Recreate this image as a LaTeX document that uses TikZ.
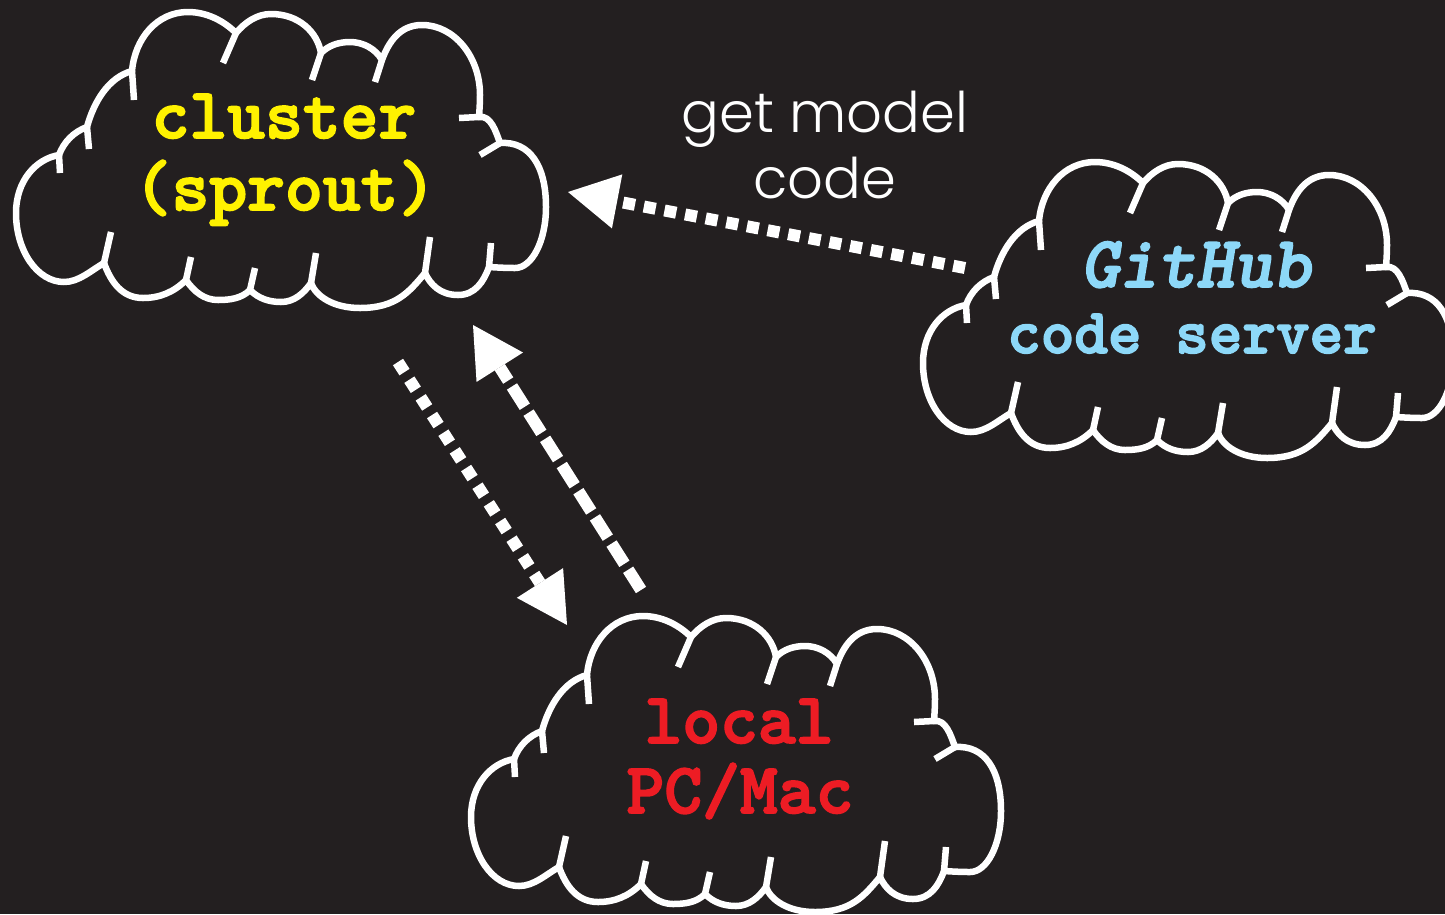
\documentclass[tikz,border=0pt]{standalone}
\usepackage{fontspec}
\newfontfamily\courb{lmmonolt10-bold.otf}[FakeBold=2.5]
\newfontfamily\courbi{lmmonolt10-boldoblique.otf}[FakeBold=2.5]
\IfFontExistsTF{Poppins Light}{\newfontfamily\gothic{Poppins Light}}{\newfontfamily\gothic{Poppins}}
\usetikzlibrary{arrows.meta}
\definecolor{bg}{HTML}{231F20}
\definecolor{cyel}{HTML}{FFF200}
\definecolor{cred}{HTML}{ED1C24}
\definecolor{cblue}{HTML}{8DD8F8}
\tikzset{
  cloudline/.style={draw=white, line width=6.5pt, line join=round},
  tickline/.style={draw=white, line width=6.5pt, line cap=butt},
  monotext/.style={font=\courb\fontsize{72}{72}\selectfont, inner sep=0pt, anchor=base},
  labeltext/.style={font=\gothic\fontsize{56}{56}\selectfont, text=white, inner sep=0pt, anchor=base},
  dotarrow/.style={draw=white, line width=12pt, line cap=butt, dash pattern=on 12pt off 9pt,
    -{Triangle[length=50pt,width=55pt,line width=0pt]}},
  dasharrow/.style={draw=white, line width=12pt, line cap=butt, dash pattern=on 24pt off 7pt,
    -{Triangle[length=50pt,width=55pt,line width=0pt]}},
  pics/cloud/.style={code={
    \draw[cloudline] (104,263)
      .. controls (91,270.5) and (79,282) .. (64,282)
      .. controls (37.5,282) and (16,251) .. (16,213)
      .. controls (16,181) and (35.6,159) .. (59,155)
      .. controls (63.8,141.8) and (73.8,131.8) .. (87,127)
      .. controls (93.5,102.9) and (107.9,77.5) .. (132,71)
      .. controls (134.8,38.6) and (157,12) .. (188,12)
      .. controls (206,12) and (223.3,20.3) .. (236,33)
      .. controls (245,22.3) and (257,14) .. (271,14)
      .. controls (298.6,14) and (317.3,31.8) .. (321,53)
      .. controls (328.8,45.2) and (339,42) .. (350,42)
      .. controls (363,42) and (375.5,48.7) .. (382,60)
      .. controls (388.6,41.9) and (399.9,25) .. (422,25)
      .. controls (454,25) and (480,56.4) .. (480,95)
      .. controls (480,102) and (479.5,110) .. (479,117)
      .. controls (490.8,114.9) and (495.9,131.7) .. (500,143)
      .. controls (530,141) and (546,166) .. (546,207)
      .. controls (546,240.7) and (532.1,268) .. (515,268)
      .. controls (506,268) and (497,267.5) .. (489,267)
      .. controls (483.7,281.6) and (475.1,295) .. (458,295)
      .. controls (439.8,295) and (430.1,284) .. (425,273)
      .. controls (408.9,292.2) and (395.9,308) .. (360,308)
      .. controls (333,308) and (315.7,296) .. (311,283)
      .. controls (303.5,293.6) and (294,302) .. (281,302)
      .. controls (269,302) and (258.5,298.5) .. (250,290)
      .. controls (241.5,298.5) and (230,300) .. (218,300)
      .. controls (204,300) and (194,291.5) .. (186,280)
      .. controls (174,292) and (160,298) .. (143,298)
      .. controls (121.5,298) and (110.6,281.1) .. (104,263)
      -- cycle;
    \draw[tickline]
      (59,155) -- (60,173)
      (87,127) -- (89,149)
      (132,71) -- (134,100)
      (236,33) -- (223,63)
      (321,53) -- (312,80)
      (382,60) -- (375,82)
      (479,117) -- (459,118)
      (500,143) -- (480,155)
      (489,267) -- (491,243)
      (425,273) -- (430,237)
      (311,283) -- (316,253)
      (250,290) -- (255,268)
      (186,280) -- (191,257)
      (104,263) -- (111,232);
    \coordinate (-c) at (281,160);
  }}
}
\begin{document}
\begin{tikzpicture}[x=1pt,y=-1pt]
\fill[bg] (0,0) rectangle (1445,914);
\useasboundingbox (0,0) rectangle (1445,914);
\clip (0,0) rectangle (1445,914);
\pic (cluster) at (0,0) {cloud};
\pic (github) at (907,150) {cloud};
\pic (local) at (455,604) {cloud};

\node[monotext, text=cyel] (clA) at (284,138) {cluster};
\node[monotext, text=cyel] (clB) at (285,210) {(sprout)};
\node[monotext, text=cblue, font=\courbi\fontsize{73}{73}\selectfont] (ghA) at (1196,287) {GitHub};
\node[monotext, text=cblue, font=\courb\fontsize{64}{64}\selectfont] (ghB) at (1192,353) {code server};
\node[monotext, text=cred] (lcA) at (739,743) {local};
\node[monotext, text=cred] (lcB) at (740,813) {PC/Mac};
\node[labeltext] (lbA) at (825,132) {get model};
\node[labeltext] (lbB) at (825,198) {code};

\coordinate (ghOut) at (965,268);
\coordinate (clIn) at (568,192);
\coordinate (clOut) at (398,362);
\coordinate (lcIn) at (567,625);
\coordinate (lcOut) at (641,590);
\coordinate (clIn2) at (473,325);

\draw[dotarrow] (ghOut) -- (clIn);
\draw[dotarrow] (clOut) -- (lcIn);
\draw[dasharrow] (lcOut) -- (clIn2);
\end{tikzpicture}
\end{document}
